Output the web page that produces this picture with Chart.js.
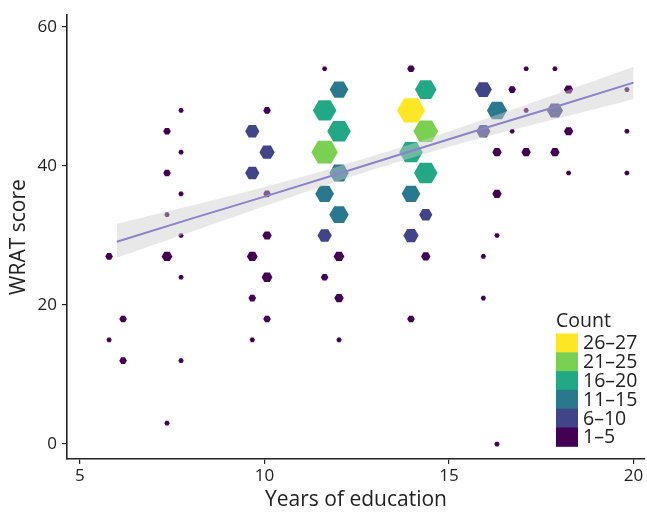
<!DOCTYPE html>
<html><head><meta charset="utf-8">
<script src="https://cdn.jsdelivr.net/npm/chart.js@4/dist/chart.umd.min.js"></script>
<style>html,body{margin:0;padding:0;background:#fff;}#wrap{width:647px;height:513px;position:relative;}</style>
</head><body><div id="wrap"><canvas id="c"></canvas></div>
<script>
// Hexbin centres (years of education, WRAT score) and counts
const hexX = [
  5.79,5.79,
  6.17,6.17,
  7.36,7.36,7.36,7.36,7.36,
  7.74,7.74,7.74,7.74,7.74,7.74,
  9.67,9.67,9.67,9.67,9.67,
  10.07,10.07,10.07,10.07,10.07,10.07,
  11.63,11.63,11.63,11.63,11.63,11.63,
  12.02,12.02,12.02,12.02,12.02,12.02,12.02,
  13.97,13.97,13.97,13.97,13.97,13.97,
  14.37,14.37,14.37,14.37,14.37,
  15.93,15.93,15.93,15.93,
  16.30,16.30,16.30,16.30,16.30,
  16.71,16.71,
  17.09,17.09,17.09,
  17.87,17.87,17.87,
  18.24,18.24,18.24,
  19.82,19.82,19.82
];
const hexY = [
  27,15,
  18,12,
  45,39,33,27,3,
  48,42,36,30,24,12,
  45,39,27,21,15,
  48,42,36,30,24,18,
  54,48,42,36,30,24,
  51,45,39,33,27,21,15,
  54,48,42,36,30,18,
  51,45,39,33,27,
  51,45,27,21,
  48,42,36,30,0,
  51,45,
  54,48,42,
  54,48,42,
  51,45,39,
  51,45,39
];
const hexCount = [
  2,1,
  2,2,
  2,2,1,4,1,
  1,1,1,1,1,1,
  7,7,4,2,1,
  2,8,2,3,4,2,
  1,19,24,12,7,2,
  12,19,13,13,4,3,1,
  2,27,19,12,8,2,
  16,21,19,6,3,
  10,7,1,1,
  14,3,3,1,1,
  2,1,
  1,1,3,
  1,9,3,
  3,3,1,
  1,1,1
];
// Linear fit with confidence band
const fitX = [6, 8, 10, 12, 14, 16, 18, 20];
const fitY = [29.1, 32.4, 35.6, 38.9, 42.2, 45.5, 48.7, 52.0];
const bandUpper = [31.7, 34.3, 37.0, 39.95, 43.2, 46.8, 50.5, 54.3];
const bandLower = [26.8, 30.5, 34.2, 37.85, 41.2, 44.2, 46.9, 49.6];
// Tick labels
const xTicks = [5, 10, 15, 20];
const yTicks = [0, 20, 40, 60];
// Legend
const legendTitle = 'Count';
const legendLabels = ['26–27', '21–25', '16–20', '11–15', '6–10', '1–5'];
const legendMin = [26, 21, 16, 11, 6, 1];
const legendColors = ['#FDE725', '#7AD151', '#22A884', '#2A788E', '#414487', '#440154'];

function colorFor(c) {
  for (let i = 0; i < legendMin.length; i++) if (c >= legendMin[i]) return legendColors[i];
  return legendColors[legendColors.length - 1];
}

const FONT = "'Open Sans', 'Noto Sans', sans-serif";
const INK = '#222';

const hexPlugin = {
  id: 'hexes',
  beforeDatasetsDraw(chart) {
    const meta = chart.getDatasetMeta(0);
    const ctx = chart.ctx;
    ctx.save();
    meta.data.forEach((pt, i) => {
      const c = hexCount[i];
      const r = 2.7 * Math.sqrt(c);
      ctx.beginPath();
      for (let k = 0; k < 6; k++) {
        const a = Math.PI / 3 * k;
        const px = pt.x + r * Math.cos(a), py = pt.y + r * Math.sin(a);
        if (k) ctx.lineTo(px, py); else ctx.moveTo(px, py);
      }
      ctx.closePath();
      ctx.fillStyle = colorFor(c);
      ctx.fill();
    });
    ctx.restore();
  }
};

const legendPlugin = {
  id: 'countLegend',
  afterDraw(chart) {
    const ctx = chart.ctx;
    ctx.save();
    const x0 = 556, y0 = 333.5, bw = 22, bh = 18.8;
    ctx.font = "19.5px " + FONT;
    ctx.fillStyle = INK;
    ctx.textBaseline = 'middle';
    ctx.textAlign = 'left';
    ctx.fillText(legendTitle, x0, 321);
    legendLabels.forEach((lab, i) => {
      ctx.fillStyle = legendColors[i];
      ctx.fillRect(x0, y0 + i * bh, bw, bh + 0.5);
      ctx.fillStyle = INK;
      ctx.fillText(lab, x0 + bw + 5, y0 + i * bh + bh / 2 + 1);
    });
    ctx.restore();
  }
};

const hexData = hexX.map((x, i) => ({ x: x, y: hexY[i] }));
const upData = fitX.map((x, i) => ({ x: x, y: bandUpper[i] }));
const loData = fitX.map((x, i) => ({ x: x, y: bandLower[i] }));
const fitData = fitX.map((x, i) => ({ x: x, y: fitY[i] }));

new Chart(document.getElementById('c'), {
  type: 'scatter',
  data: {
    datasets: [
      { label: 'hex', data: hexData, pointRadius: 0, pointHoverRadius: 0, order: 3 },
      { label: 'upper', data: upData, showLine: true, pointRadius: 0, borderWidth: 0, borderColor: 'rgba(0,0,0,0)', backgroundColor: 'rgba(205,205,205,0.45)', fill: '+1', tension: 0.4, order: 2 },
      { label: 'lower', data: loData, showLine: true, pointRadius: 0, borderWidth: 0, borderColor: 'rgba(0,0,0,0)', fill: false, tension: 0.4, order: 2 },
      { label: 'fit', data: fitData, showLine: true, pointRadius: 0, borderWidth: 2, borderColor: '#8a83c9', fill: false, order: 0 }
    ]
  },
  options: {
    responsive: true,
    maintainAspectRatio: false,
    animation: false,
    devicePixelRatio: 1,
    layout: { padding: { top: 13, right: 2, left: 0, bottom: 0 } },
    plugins: { legend: { display: false }, tooltip: { enabled: false } },
    scales: {
      x: {
        type: 'linear', min: 4.65, max: 20.31,
        afterBuildTicks: s => { s.ticks = xTicks.map(v => ({ value: v })); },
        afterFit: s => { s.height = 54; },
        ticks: { font: { size: 17, family: FONT }, color: INK, padding: 2, maxRotation: 0, autoSkip: false },
        grid: { display: true, drawOnChartArea: false, drawTicks: true, tickLength: 5, color: INK, lineWidth: 1.2 },
        border: { display: true, color: INK, width: 1.6 },
        title: { display: true, text: 'Years of education', font: { size: 21, family: FONT }, color: INK, padding: { top: 0, bottom: 0 } }
      },
      y: {
        type: 'linear', min: -2.15, max: 61.7,
        afterBuildTicks: s => { s.ticks = yTicks.map(v => ({ value: v })); },
        afterFit: s => { s.width = 67; },
        ticks: { font: { size: 17, family: FONT }, color: INK, padding: 5, autoSkip: false },
        grid: { display: true, drawOnChartArea: false, drawTicks: true, tickLength: 5, color: INK, lineWidth: 1.2 },
        border: { display: true, color: INK, width: 1.6 },
        title: { display: true, text: 'WRAT score', font: { size: 21, family: FONT }, color: INK, padding: { top: 6, bottom: 0 } }
      }
    }
  },
  plugins: [hexPlugin, legendPlugin]
});
</script></body></html>
